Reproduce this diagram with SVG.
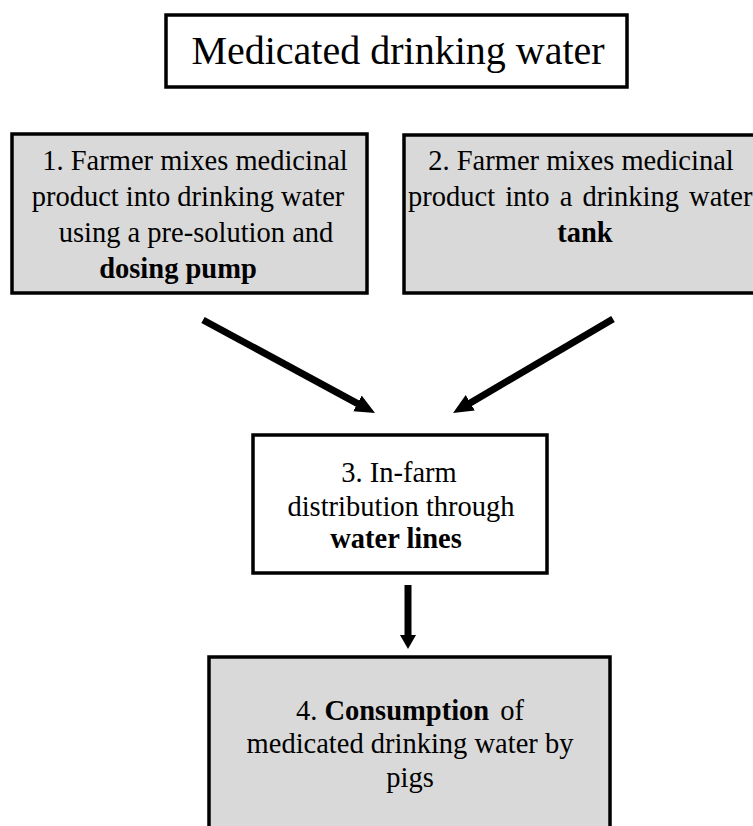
<svg xmlns="http://www.w3.org/2000/svg" width="753" height="826" viewBox="0 0 753 826">
<style>
  .box { stroke: #000; stroke-width: 3.5; }
  .gray { fill: #d9d9d9; }
  .white { fill: #fff; }
  text { font-family: "Liberation Serif", "Times New Roman", serif; fill: #000; }
  .t { font-size: 28.5px; }
  .c { text-anchor: middle; }
  .b { font-weight: bold; }
  .conn { stroke: #000; fill: none; }
</style>
<defs>
  <marker id="ah" markerUnits="userSpaceOnUse" viewBox="0 0 20 18" refX="6" refY="9" markerWidth="20" markerHeight="18" orient="auto">
    <path d="M0,0 L20,9 L0,18 z" fill="#000"/>
  </marker>
  <marker id="ah2" markerUnits="userSpaceOnUse" viewBox="0 0 14 16" refX="4" refY="8" markerWidth="14" markerHeight="16" orient="auto">
    <path d="M0,0 L14,8 L0,16 z" fill="#000"/>
  </marker>
</defs>
<rect width="753" height="826" fill="#fff"/>
<g id="title">
  <rect class="box white" x="166" y="15" width="461" height="72"/>
  <text class="c" x="398" y="64" font-size="40">Medicated drinking water</text>
</g>
<g id="node1">
  <rect class="box gray" x="12" y="134" width="355" height="159"/>
  <text class="t c" x="195" y="170">1. Farmer mixes medicinal</text>
  <text class="t c" x="188" y="206">product into drinking water</text>
  <text class="t c" x="196" y="242">using a pre-solution and</text>
  <text class="t c b" x="178" y="278">dosing pump</text>
</g>
<g id="node2">
  <rect class="box gray" x="404" y="135" width="360" height="158"/>
  <text class="t c" x="581" y="170">2. Farmer mixes medicinal</text>
  <text class="t" x="408" y="206" word-spacing="3">product into a drinking water</text>
  <text class="t c b" x="585" y="242">tank</text>
</g>
<g id="node3">
  <rect class="box white" x="253" y="435" width="294" height="138"/>
  <text class="t c" x="399" y="482">3. In-farm</text>
  <text class="t c" x="401" y="516">distribution through</text>
  <text class="t c b" x="396" y="548">water lines</text>
</g>
<g id="node4">
  <rect class="box gray" x="209" y="657" width="401" height="200"/>
  <text class="t c" x="410" y="720">4. <tspan class="b">Consumption</tspan>  <tspan dx="4">of</tspan></text>
  <text class="t c" x="410" y="753">medicated drinking water by</text>
  <text class="t c" x="410" y="787">pigs</text>
</g>
<g id="connectors">
  <path class="conn" d="M203,320 L362.7,406.3" stroke-width="7" marker-end="url(#ah)"/>
  <path class="conn" d="M613,319 L465.1,405.9" stroke-width="7" marker-end="url(#ah)"/>
  <path class="conn" d="M408,585 L408,639" stroke-width="7" marker-end="url(#ah2)"/>
</g>
</svg>
